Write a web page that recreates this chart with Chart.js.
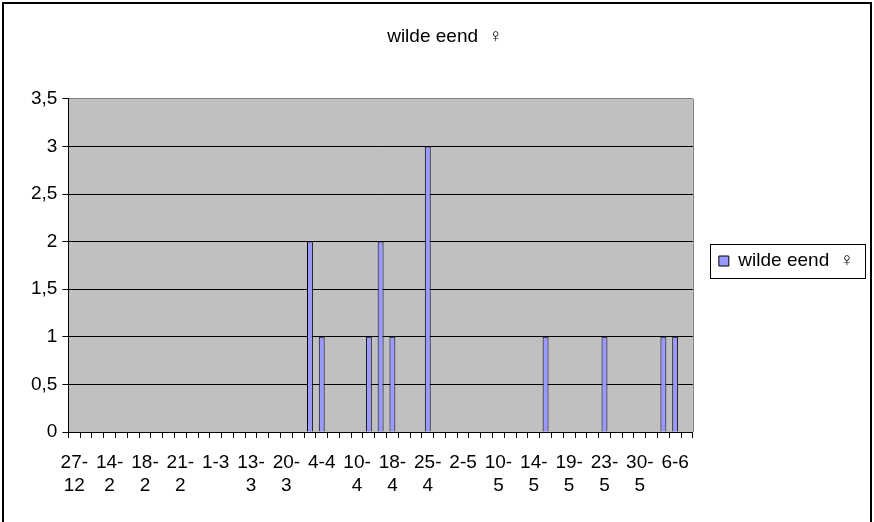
<!DOCTYPE html>
<html>
<head>
<meta charset="utf-8">
<script src="https://cdn.jsdelivr.net/npm/chart.js@4"></script>
<style>
body { margin: 0; background: #fff; }
#wrap { width: 874px; height: 522px; }
</style>
</head>
<body>
<div id="wrap"><canvas id="eendChart"></canvas></div>
<script>
var dates = ['27-12','','','14-2','','','18-2','','','21-2','','','1-3','','','13-3','','',
    '20-3','','','4-4','','','10-4','','','18-4','','','25-4','','','2-5','','','10-5','','',
    '14-5','','','19-5','','','23-5','','','30-5','','','6-6',''];
var counts = [0,0,0,0,0,0,0,0,0,0, 0,0,0,0,0,0,0,0,0,0,
    2,1,0,0,0,1,2,1,0,0, 3,0,0,0,0,0,0,0,0,0,
    1,0,0,0,0,1,0,0,0,0, 1,1,0];
var seriesName = 'wilde eend  \u2640';
var yTicks = [0, 0.5, 1, 1.5, 2, 2.5, 3, 3.5];

var fam = '"Liberation Sans", Arial, sans-serif';

// grey plot area, right edge and outer frame, box round the legend
var frame = {
    id: 'frame',
    beforeDraw: function (chart) {
        var a = chart.chartArea, ctx = chart.ctx;
        ctx.save();
        ctx.fillStyle = '#c0c0c0';
        ctx.fillRect(a.left, a.top, a.right - a.left, a.bottom - a.top);
        ctx.restore();
    },
    afterDraw: function (chart) {
        var a = chart.chartArea, ctx = chart.ctx;
        ctx.save();
        ctx.strokeStyle = '#808080';
        ctx.lineWidth = 1;
        ctx.beginPath();
        ctx.moveTo(Math.round(a.right) + 0.5, a.top);
        ctx.lineTo(Math.round(a.right) + 0.5, a.bottom);
        ctx.stroke();
        ctx.strokeStyle = '#000';
        ctx.lineWidth = 2;
        ctx.strokeRect(3, 3, chart.width - 6, chart.height + 10);
        var hb = chart.legend.legendHitBoxes[0];
        if (hb) {
            ctx.lineWidth = 1;
            ctx.strokeRect(Math.round(hb.left) - 8.5, Math.round(hb.top) - 7.5,
                Math.round(hb.width) + 20, Math.round(hb.height) + 15);
        }
        ctx.restore();
    }
};

var eendChart = new Chart(document.getElementById('eendChart'), {
    type: 'bar',
    data: {
        labels: dates,
        datasets: [{
            label: seriesName,
            data: counts,
            backgroundColor: '#9999ff',
            borderColor: '#000',
            borderWidth: 1,
            barPercentage: 0.5,
            categoryPercentage: 1
        }]
    },
    plugins: [frame],
    options: {
        responsive: true,
        maintainAspectRatio: false,
        animation: false,
        layout: {
            padding: { left: 26, right: 10, top: 0, bottom: 0 }
        },
        plugins: {
            title: {
                display: true,
                text: seriesName,
                color: '#000',
                font: { family: fam, size: 19, weight: 'normal' },
                padding: { top: 25, bottom: 51 }
            },
            legend: {
                position: 'right',
                labels: {
                    color: '#000',
                    font: { family: fam, size: 19 },
                    boxWidth: 10,
                    boxHeight: 10,
                    padding: 26
                }
            },
            tooltip: { enabled: false }
        },
        scales: {
            x: {
                afterFit: function (axis) { axis.height = 90; },
                grid: {
                    drawOnChartArea: false,
                    drawTicks: true,
                    tickLength: 6,
                    color: '#000'
                },
                border: { color: '#000', width: 1 },
                ticks: {
                    autoSkip: false,
                    maxRotation: 0,
                    minRotation: 0,
                    padding: 13,
                    color: '#000',
                    font: { family: fam, size: 19, lineHeight: 1.22 },
                    callback: function (v, i) {
                        var s = dates[i];
                        if (!s) return '';
                        if (s.length > 3) {
                            var p = s.indexOf('-');
                            return [s.slice(0, p + 1), s.slice(p + 1)];
                        }
                        return s;
                    }
                }
            },
            y: {
                min: yTicks[0],
                max: yTicks[yTicks.length - 1],
                afterBuildTicks: function (axis) {
                    axis.ticks = yTicks.map(function (v) { return { value: v }; });
                },
                grid: {
                    color: function (c) { return c.tick && c.tick.value === 3.5 ? '#808080' : '#000'; },
                    tickColor: '#000',
                    tickLength: 6
                },
                border: { color: '#000', width: 1 },
                ticks: {
                    padding: 5,
                    color: '#000',
                    font: { family: fam, size: 19 },
                    callback: function (v) { return String(v).replace('.', ','); }
                }
            }
        }
    }
});
</script>
</body>
</html>
